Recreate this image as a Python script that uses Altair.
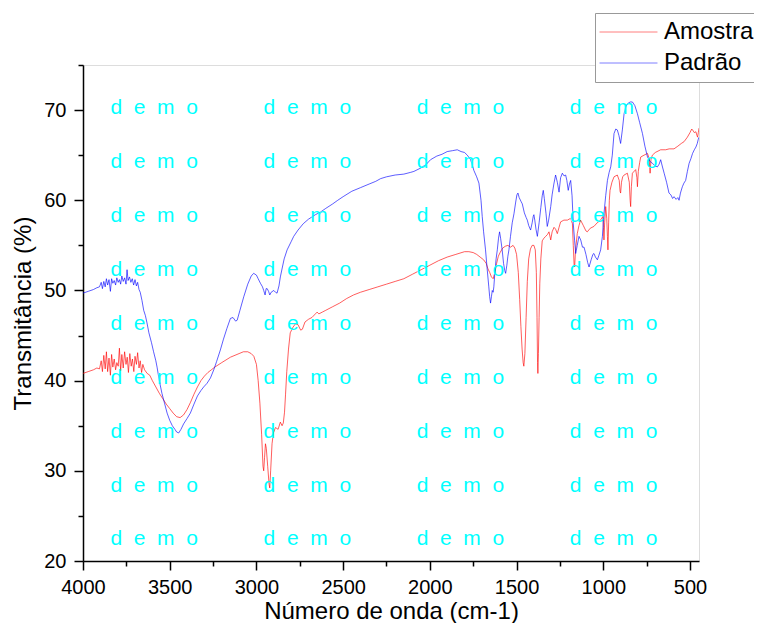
import altair as alt
import pandas as pd

FONT = "Liberation Sans"

series_names = ["Amostra", "Padrão"]
series_colors = ["#FF0000", "#0000FF"]

amostra_wn = [4000, 3970, 3940, 3920, 3905, 3895, 3888, 3880, 3872, 3865, 3858, 3850, 3842, 3835, 3828,
              3820, 3812, 3805, 3797, 3790, 3783, 3776, 3768, 3760, 3752, 3745, 3738, 3730, 3722, 3715,
              3707, 3700, 3692, 3685, 3677, 3670, 3662, 3655, 3645, 3630, 3615, 3600, 3580, 3560, 3540,
              3520, 3500, 3480, 3460, 3440, 3420, 3400, 3380, 3360, 3340, 3320, 3300, 3280, 3260, 3240,
              3200, 3150, 3100, 3075, 3050, 3030, 3015, 3000, 2990, 2980, 2970, 2962, 2958, 2953, 2948,
              2943, 2935, 2927, 2923, 2918, 2910, 2902, 2890, 2875, 2862, 2852, 2845, 2838, 2832, 2825,
              2815, 2805, 2790, 2775, 2760, 2745, 2735, 2720, 2700, 2680, 2660, 2650, 2640, 2620, 2600,
              2560, 2520, 2480, 2440, 2400, 2350, 2300, 2250, 2200, 2150, 2100, 2050, 2000, 1950, 1900,
              1850, 1800, 1775, 1750, 1730, 1710, 1690, 1675, 1665, 1655, 1645, 1635, 1625, 1615, 1605,
              1595, 1580, 1565, 1550, 1535, 1520, 1510, 1500, 1490, 1482, 1475, 1468, 1462, 1458, 1452,
              1445, 1438, 1430, 1420, 1410, 1400, 1392, 1386, 1382, 1379, 1377, 1374, 1370, 1366, 1360,
              1352, 1342, 1332, 1322, 1313, 1303, 1295, 1284, 1275, 1265, 1255, 1246, 1227, 1207, 1188,
              1178, 1173, 1168, 1165, 1160, 1150, 1140, 1131, 1115, 1100, 1092, 1075, 1054, 1035, 1015,
              1003, 999, 996, 992, 986, 980, 976, 973, 969, 965, 961, 950, 938, 919, 908,
              903, 900, 895, 888, 880, 861, 850, 845, 842, 838, 832, 813, 806, 803, 798,
              790, 784, 765, 745, 735, 730, 725, 717, 700, 669, 640, 620, 592, 570, 550,
              534, 515, 500, 490, 485, 475, 466, 460, 456, 452, 448]
amostra_t = [40.8, 41.0, 41.2, 41.4, 41.3, 42.2, 41.0, 42.8, 41.3, 43.2, 41.0, 42.5, 40.6, 42.9, 41.5,
             42.4, 41.2, 42.0, 41.6, 43.6, 41.1, 42.9, 41.4, 43.2, 41.8, 42.6, 40.9, 43.0, 41.6, 42.4,
             41.0, 42.7, 41.8, 43.1, 41.4, 42.2, 40.9, 41.8, 41.2, 40.8, 40.6, 40.0, 39.3, 38.6, 38.0,
             37.4, 36.9, 36.4, 36.0, 35.9, 36.2, 36.8, 37.6, 38.5, 39.3, 40.0, 40.5, 40.9, 41.2, 41.5,
             42.0, 42.6, 43.0, 43.2, 43.2, 43.0, 42.7, 41.8, 40.0, 37.5, 34.0, 30.5, 30.0, 31.5, 33.0,
             32.5, 30.5, 28.5, 28.1, 30.0, 33.0, 34.2, 34.8, 34.6, 35.4, 35.0, 35.3, 36.5, 38.5, 41.0,
             43.5, 45.3, 45.9, 46.3, 46.2, 45.6, 45.7, 46.5, 46.8, 47.0, 47.4, 47.6, 47.4, 47.6, 47.8,
             48.2, 48.6, 49.1, 49.5, 49.8, 50.1, 50.4, 50.7, 51.0, 51.3, 51.8, 52.3, 52.8, 53.3, 53.7,
             54.0, 54.3, 54.3, 54.2, 54.0, 53.7, 53.4, 53.0, 52.4, 52.0, 51.5, 51.3, 52.0, 53.0, 53.8,
             54.2, 54.7, 54.9, 55.0, 54.8, 55.0, 54.7, 54.0, 52.0, 49.0, 46.0, 43.5, 42.0, 41.6, 43.0,
             47.0, 51.0, 53.5, 54.6, 55.0, 55.0, 54.5, 52.0, 47.0, 42.0, 40.8, 43.0, 47.0, 50.8, 53.5,
             55.5, 55.8, 56.0, 56.2, 56.5, 55.6, 56.5, 57.0, 56.8, 56.3, 57.0, 57.6, 57.8, 57.8, 58.0,
             57.4, 55.0, 52.8, 52.6, 54.5, 56.3, 57.2, 57.8, 57.2, 56.6, 56.5, 56.9, 57.1, 57.5, 57.8,
             58.2, 57.0, 55.6, 57.5, 59.3, 58.0, 56.0, 54.5, 57.5, 60.0, 61.1, 62.0, 62.6, 62.8, 62.2,
             61.0, 60.8, 62.0, 62.6, 62.8, 63.0, 62.0, 60.0, 59.3, 61.5, 63.0, 63.4, 62.5, 61.5, 63.2,
             64.2, 64.8, 65.0, 65.2, 64.6, 63.0, 64.5, 65.0, 65.3, 65.6, 65.6, 65.7, 65.7, 66.0, 66.3,
             66.5, 67.0, 67.5, 67.9, 67.8, 67.5, 67.6, 67.2, 67.0, 67.5, 68.0]

padrao_wn = [4000, 3970, 3940, 3920, 3905, 3895, 3888, 3880, 3872, 3865, 3858, 3850, 3842, 3835, 3828,
             3820, 3812, 3805, 3797, 3790, 3783, 3776, 3768, 3760, 3752, 3746, 3740, 3732, 3724, 3716,
             3708, 3700, 3692, 3685, 3677, 3670, 3660, 3650, 3640, 3631, 3620, 3605, 3593, 3580, 3573,
             3560, 3545, 3530, 3515, 3500, 3485, 3470, 3460, 3448, 3435, 3420, 3400, 3381, 3360, 3340,
             3320, 3304, 3285, 3265, 3246, 3230, 3208, 3190, 3170, 3150, 3135, 3120, 3111, 3095, 3073,
             3050, 3030, 3016, 3000, 2990, 2977, 2965, 2958, 2950, 2944, 2938, 2930, 2923, 2915, 2900,
             2890, 2881, 2870, 2862, 2850, 2840, 2823, 2800, 2785, 2760, 2730, 2700, 2660, 2630, 2600,
             2560, 2531, 2500, 2450, 2400, 2350, 2312, 2284, 2250, 2200, 2150, 2110, 2092, 2050, 2020,
             1996, 1960, 1930, 1900, 1870, 1842, 1820, 1800, 1784, 1765, 1746, 1730, 1717, 1705, 1698,
             1690, 1679, 1670, 1660, 1655, 1650, 1645, 1640, 1635, 1631, 1625, 1618, 1611, 1604, 1598,
             1592, 1583, 1575, 1568, 1563, 1556, 1550, 1544, 1535, 1525, 1515, 1505, 1498, 1492, 1485,
             1475, 1467, 1455, 1445, 1438, 1430, 1419, 1410, 1404, 1400, 1395, 1388, 1380, 1370, 1360,
             1352, 1346, 1340, 1330, 1323, 1315, 1303, 1295, 1285, 1275, 1265, 1255, 1246, 1236, 1226,
             1217, 1210, 1202, 1195, 1188, 1180, 1173, 1165, 1159, 1150, 1140, 1130, 1120, 1111, 1100,
             1090, 1082, 1070, 1060, 1054, 1045, 1034, 1025, 1015, 1005, 996, 986, 976, 966, 957,
             948, 938, 928, 919, 910, 900, 890, 880, 870, 861, 845, 832, 818, 803, 790,
             774, 760, 745, 730, 717, 700, 688, 678, 669, 660, 649, 635, 621, 610, 600,
             592, 580, 570, 563, 555, 544, 535, 525, 515, 505, 495, 485, 475, 466, 458,
             453, 448]
padrao_t = [49.7, 49.9, 50.1, 50.3, 50.4, 50.9, 50.2, 51.0, 50.4, 51.3, 50.6, 51.2, 49.9, 51.3, 50.8,
            51.1, 50.6, 51.4, 50.9, 51.2, 50.7, 51.6, 51.0, 51.4, 50.7, 52.3, 51.1, 51.5, 50.9, 51.3,
            50.6, 51.2, 50.5, 50.9, 50.1, 49.8, 48.9, 47.8, 47.2, 46.4, 45.3, 44.2, 43.2, 42.2, 41.5,
            40.0, 38.6, 37.5, 36.4, 35.6, 35.0, 34.6, 34.3, 34.2, 34.6, 35.2, 35.8, 36.4, 37.4, 38.3,
            38.9, 39.3, 39.7, 40.3, 41.2, 42.1, 43.4, 44.6, 45.8, 46.9, 47.0, 46.6, 46.7, 47.8, 49.3,
            50.7, 51.6, 51.9, 51.7, 51.3, 50.8, 50.4, 50.0, 49.5, 50.2, 50.2, 49.9, 49.5, 49.8, 50.0,
            49.8, 49.7, 50.5, 51.5, 52.6, 53.5, 54.5, 55.4, 56.0, 56.7, 57.4, 57.9, 58.4, 58.7, 59.1,
            59.6, 60.0, 60.4, 61.0, 61.4, 61.8, 62.1, 62.4, 62.6, 62.8, 62.9, 63.1, 63.2, 63.6, 64.0,
            64.5, 64.9, 65.1, 65.4, 65.5, 65.6, 65.4, 65.3, 65.0, 64.5, 63.3, 62.6, 61.9, 60.0, 58.2,
            56.5, 54.5, 52.5, 50.4, 49.3, 48.6, 49.3, 50.0, 49.8, 50.4, 52.0, 53.5, 54.5, 55.8, 56.5,
            55.8, 54.5, 53.0, 52.2, 51.9, 52.8, 53.8, 54.5, 56.0, 57.5, 58.5, 59.8, 60.6, 60.8, 60.3,
            59.9, 59.6, 58.6, 58.1, 57.8, 57.2, 56.7, 57.5, 58.2, 58.4, 57.8, 56.8, 56.0, 57.5, 59.2,
            60.5, 61.1, 60.2, 58.5, 57.1, 57.8, 59.3, 60.6, 61.8, 62.8, 62.0, 60.9, 62.5, 63.0, 62.7,
            62.8, 62.2, 61.1, 61.8, 62.2, 60.5, 57.4, 55.5, 54.1, 55.0, 56.0, 55.6, 54.8, 54.8, 54.0,
            53.1, 52.6, 53.4, 54.0, 54.1, 53.7, 53.4, 53.9, 54.5, 56.0, 58.5, 60.5, 62.2, 63.1, 63.7,
            65.0, 67.4, 67.9, 67.8, 67.2, 66.3, 67.8, 69.6, 70.4, 70.7, 70.9, 70.9, 70.5, 69.6, 68.6,
            67.4, 66.0, 64.8, 64.3, 64.1, 63.8, 63.7, 64.0, 64.5, 63.8, 63.0, 62.0, 60.8, 60.6, 60.2,
            60.4, 60.1, 60.3, 60.0, 60.8, 61.5, 61.9, 62.2, 63.2, 64.1, 64.6, 65.2, 65.6, 65.9, 66.3,
            66.7, 67.0]

x_major = [4000, 3500, 3000, 2500, 2000, 1500, 1000, 500]
x_minor = [3750, 3250, 2750, 2250, 1750, 1250, 750]
y_major = [20, 30, 40, 50, 60, 70]
y_minor = [25, 35, 45, 55, 65, 75]

# watermark grid ("demo" stamp) in data coordinates
wm_x = [3842, 2959, 2076, 1193]
wm_y = [69.56, 63.58, 57.6, 51.62, 45.64, 39.66, 33.68, 27.7, 21.72]
wm_text = "d\u00a0\u00a0e\u00a0\u00a0m\u00a0\u00a0o"

rows = []
for w, t in zip(amostra_wn, amostra_t):
    rows.append({"wn": w, "t": t, "serie": series_names[0]})
for w, t in zip(padrao_wn, padrao_t):
    rows.append({"wn": w, "t": t, "serie": series_names[1]})
df = pd.DataFrame(rows)

wm = pd.DataFrame([{"wn": x, "t": y, "txt": wm_text} for x in wm_x for y in wm_y])

xscale = alt.Scale(domain=[4000, 448], nice=False, zero=False)
yscale = alt.Scale(domain=[20, 75], nice=False, zero=False)

axis_common = dict(grid=False, domainColor="#000000", tickColor="#000000", domainWidth=1.5,
                   tickWidth=1.5, labelColor="#000000", titleColor="#000000", labelFont=FONT,
                   titleFont=FONT, titleFontWeight="normal", labelFontSize=20, titleFontSize=24)

lines = alt.Chart(df).mark_line(strokeWidth=0.75, opacity=0.85, clip=True).encode(
    x=alt.X("wn:Q", scale=xscale,
            axis=alt.Axis(values=x_major, orient="bottom", title="Número de onda (cm-1)",
                          tickSize=9, labelPadding=7, titlePadding=2, labelFlush=False,
                          labelOverlap=False, format="d", **axis_common)),
    y=alt.Y("t:Q", scale=yscale,
            axis=alt.Axis(values=y_major, orient="left", title="Transmitância (%)",
                          tickSize=9, labelPadding=8, titlePadding=8, labelFlush=False,
                          format="d", **axis_common)),
    color=alt.Color("serie:N", sort=series_names,
                    scale=alt.Scale(domain=series_names, range=series_colors),
                    legend=alt.Legend(orient="none", legendX=512, legendY=-52, title=None,
                                      strokeColor="#999999", fillColor="#FFFFFF", padding=7,
                                      symbolType="M-8,0H8", symbolSize=52.5, symbolStrokeWidth=1,
                                      symbolOffset=14.5, symbolOpacity=0.5, labelFontSize=24,
                                      labelFont=FONT, labelColor="#000000", rowPadding=7,
                                      labelOffset=23.5)),
    detail="serie:N",
)

minor = alt.Chart(df).mark_line(opacity=0).encode(
    x=alt.X("wn:Q", scale=xscale,
            axis=alt.Axis(values=x_minor, orient="bottom", labels=False, domain=False, title=None,
                          tickSize=5, tickWidth=1.5, tickColor="#000000", grid=False)),
    y=alt.Y("t:Q", scale=yscale,
            axis=alt.Axis(values=y_minor, orient="left", labels=False, domain=False, title=None,
                          tickSize=5, tickWidth=1.5, tickColor="#000000", grid=False)),
    detail="serie:N",
)

marks = alt.Chart(wm).mark_text(align="left", baseline="alphabetic", font=FONT, fontSize=21,
                                color="#00FFFF").encode(
    x=alt.X("wn:Q", scale=xscale, axis=None),
    y=alt.Y("t:Q", scale=yscale, axis=None),
    text="txt:N",
)

chart = alt.layer(lines, minor, marks).resolve_axis(x="independent", y="independent").properties(
    width=616, height=496,
    padding={"left": 75, "top": 57, "right": 55, "bottom": 62},
    autosize=alt.AutoSizeParams(type="none"),
).configure_view(stroke=None).configure(background="white")

chart.save("out.html", embed_options={"renderer": "svg", "actions": False})
